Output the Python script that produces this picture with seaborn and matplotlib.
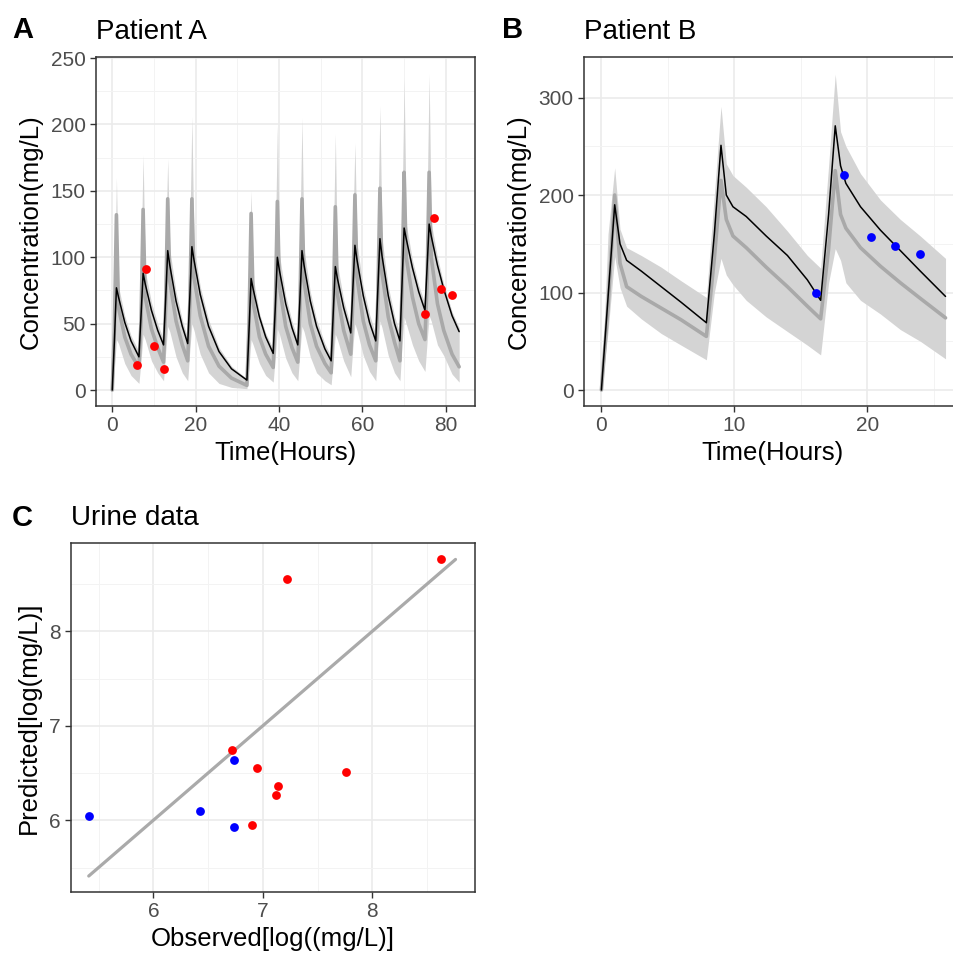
import numpy as np
import seaborn as sns
import matplotlib
matplotlib.use("Agg")
import matplotlib.pyplot as plt
from matplotlib.ticker import MultipleLocator

# ---- Patient A: simulated profile ----
a_time = [0, 0.5, 1.0, 1.5, 3.0, 4.5,
          6.4, 6.9, 7.4, 7.9, 9.4, 10.9,
          12.3, 12.8, 13.3, 13.8, 15.3, 16.8,
          18.1, 18.6, 19.1, 19.6, 21.1, 23.1, 25.6, 28.6,
          32.3, 32.8, 33.3, 33.8, 35.3, 36.8,
          38.6, 39.1, 39.6, 40.1, 41.6, 43.1,
          44.5, 45.0, 45.5, 46.0, 47.5, 49.0, 51.0,
          52.5, 53.0, 53.5, 54.0, 55.5,
          57.2, 57.7, 58.2, 58.7, 60.2, 61.7,
          63.2, 63.7, 64.2, 64.7, 66.2, 67.7,
          69.0, 69.5, 70.0, 70.5, 72.0, 73.5,
          75.0, 75.5, 76.0, 76.5, 78.0, 79.5, 81.5, 83.2]
a_ind = [0, 36, 77, 70, 51, 37,
         25, 56, 88, 80, 60, 45,
         34, 68, 105, 94, 67, 48,
         35, 70, 108, 98, 72, 48, 29, 16,
         7.5, 45, 84, 76, 55, 40,
         27.6, 62, 100, 90, 65, 47,
         34, 68, 105, 94, 67, 48, 31,
         22, 58, 93, 84, 62,
         43, 76, 109, 98, 71, 51,
         37, 76, 114, 101, 71, 50,
         37, 80, 122, 114, 92, 74,
         60, 92, 125, 116, 94, 76, 56, 44]
a_med = [0, 45, 132, 62, 40, 27,
         17, 52, 136, 70, 46, 32,
         21, 62, 144, 82, 52, 34,
         22, 65, 144, 85, 56, 33, 18, 9,
         3.5, 50, 133, 66, 40, 27,
         17, 60, 142, 78, 48, 32,
         21, 62, 144, 82, 50, 33, 20,
         13, 55, 138, 72, 45,
         27, 68, 147, 85, 52, 34,
         22, 70, 152, 88, 55, 36,
         22, 75, 164, 100, 70, 50,
         38, 80, 164, 100, 65, 45, 27, 17.5]
a_lo = [0, 15, 38, 35, 20, 11,
        5, 22, 42, 38, 22, 13,
        7, 28, 48, 44, 25, 13,
        7, 30, 50, 45, 27, 13, 5, 2,
        1, 18, 38, 34, 20, 11,
        6, 25, 46, 42, 24, 13,
        7, 28, 48, 44, 25, 13, 7,
        4, 22, 42, 38, 22,
        10, 32, 50, 45, 26, 14,
        7, 32, 52, 47, 26, 13,
        7, 34, 55, 50, 34, 22,
        14, 36, 56, 52, 34, 26, 12, 6]
a_hi = [0, 70, 160, 78, 56, 41,
        29, 100, 177, 90, 66, 50,
        38, 110, 174, 106, 74, 53,
        39, 120, 206, 108, 78, 53, 32, 18,
        8.5, 85, 150, 85, 58, 43,
        31, 110, 199, 102, 71, 52,
        38, 115, 205, 106, 74, 53, 35,
        25, 105, 193, 95, 68,
        48, 120, 186, 110, 78, 57,
        42, 125, 214, 114, 78, 56,
        42, 135, 235, 125, 98, 79,
        65, 140, 238, 126, 100, 80, 59, 47]
a_obs_t = [5.9, 8.0, 10.1, 12.3, 75.0, 77.05, 78.8, 81.4]
a_obs_c = [18.6, 91.4, 33.1, 16.1, 57.0, 129.8, 75.8, 71.8]

# ---- Patient B ----
b_time = [0, 0.5, 1.0, 1.4, 1.9, 3.0, 4.5, 6.0, 7.9,
          8.5, 9.0, 9.4, 9.9, 10.9, 12.4, 14.0, 15.5, 16.5,
          17.1, 17.6, 18.0, 18.4, 19.5, 21.0, 22.5, 24.0, 25.9]
b_ind = [0, 95, 190, 150, 133, 122, 106, 90, 69,
         160, 251, 200, 188, 178, 158, 138, 113, 92,
         180, 271, 230, 212, 188, 164, 143, 122, 96]
b_med = [0, 85, 200, 130, 106, 96, 84, 72, 55,
         135, 215, 175, 158, 146, 126, 106, 86, 73,
         145, 225, 180, 166, 146, 127, 110, 94, 74]
b_lo = [0, 60, 137, 105, 86, 73, 58, 46, 31,
        100, 135, 118, 108, 92, 75, 60, 46, 36,
        110, 145, 133, 110, 92, 78, 62, 50, 32]
b_hi = [0, 160, 228, 165, 146, 138, 126, 112, 95,
        200, 291, 232, 220, 208, 188, 163, 138, 125,
        230, 324, 265, 250, 222, 195, 175, 158, 135]
b_obs_t = [16.14, 18.27, 20.26, 22.09, 23.99]
b_obs_c = [99.3, 220.4, 157.4, 147.8, 139.3]

# ---- Urine data (log scale) ----
c_obs_red = [8.63, 7.22, 6.72, 6.95, 7.76, 7.14, 7.12, 6.90]
c_pred_red = [8.76, 8.55, 6.74, 6.55, 6.51, 6.36, 6.27, 5.95]
c_obs_blue = [6.74, 5.41, 6.43, 6.74]
c_pred_blue = [6.64, 6.04, 6.10, 5.93]

sns.set_style("white")
plt.rcParams['font.family'] = ['Liberation Sans', 'DejaVu Sans']
plt.rcParams['text.color'] = 'black'
plt.rcParams['axes.labelcolor'] = 'black'
plt.rcParams['xtick.bottom'] = True
plt.rcParams['ytick.left'] = True

LIGHT = "#D4D4D4"
MEDC = "#A9A9A9"


def style_axes(ax, xmaj, xmin, ymaj, ymin):
    ax.xaxis.set_major_locator(MultipleLocator(xmaj))
    ax.xaxis.set_minor_locator(MultipleLocator(xmin))
    ax.yaxis.set_major_locator(MultipleLocator(ymaj))
    ax.yaxis.set_minor_locator(MultipleLocator(ymin))
    ax.grid(True, which='major', color='#EBEBEB', lw=1.2)
    ax.grid(True, which='minor', color='#F3F3F3', lw=0.7)
    ax.set_axisbelow(True)
    for sp in ax.spines.values():
        sp.set_color('#333333')
        sp.set_linewidth(1.1)
    ax.tick_params(which='major', bottom=True, left=True, length=4.3,
                   width=1.0, color='#333333', labelcolor='#4D4D4D',
                   labelsize=15, pad=3)
    ax.tick_params(which='minor', length=0)


def pk_panel(ax, t, ind, med, lo, hi, obs_t, obs_c, col):
    ax.fill_between(t, lo, hi, color=LIGHT, lw=0, zorder=1)
    sns.lineplot(x=t, y=med, ax=ax, color=MEDC, lw=2.6, sort=False,
                 estimator=None, zorder=2)
    sns.lineplot(x=t, y=ind, ax=ax, color='black', lw=1.1, sort=False,
                 estimator=None, zorder=3)
    sns.scatterplot(x=obs_t, y=obs_c, ax=ax, color=col, s=40, lw=0, zorder=4)
    ax.set_xlabel('Time(Hours)', fontsize=18.5)
    ax.set_ylabel('Concentration(mg/L)', fontsize=18.5, labelpad=6)


fig = plt.figure(figsize=(9.54, 9.6), dpi=100)
W, H = 954, 960

axA = fig.add_axes([96 / W, (H - 406) / H, 379 / W, 349 / H])
pk_panel(axA, a_time, a_ind, a_med, a_lo, a_hi, a_obs_t, a_obs_c, '#FF0000')
axA.set_xlim(-3.9, 87.0)
axA.set_ylim(-12, 250.8)
style_axes(axA, 20, 10, 50, 25)
axA.set_title('Patient A', loc='left', fontsize=20, pad=13)

axB = fig.add_axes([584 / W, (H - 406) / H, (962 - 584) / W, 349 / H])
pk_panel(axB, b_time, b_ind, b_med, b_lo, b_hi, b_obs_t, b_obs_c, '#0000FF')
axB.set_xlim(-1.31, 27.14)
axB.set_ylim(-16.4, 341.6)
style_axes(axB, 10, 5, 100, 50)
axB.set_title('Patient B', loc='left', fontsize=20, pad=13)

axC = fig.add_axes([71 / W, (H - 892) / H, 404 / W, 349 / H])
all_vals = c_obs_red + c_pred_red + c_obs_blue + c_pred_blue
ident = [min(all_vals), max(all_vals)]
sns.lineplot(x=ident, y=ident, ax=axC, color='#AAAAAA', lw=2.3, zorder=2)
sns.scatterplot(x=c_obs_red, y=c_pred_red, ax=axC, color='#FF0000', s=40,
                lw=0, zorder=3)
sns.scatterplot(x=c_obs_blue, y=c_pred_blue, ax=axC, color='#0000FF', s=40,
                lw=0, zorder=3)
axC.set_xlim(5.248, 8.938)
axC.set_ylim(5.241, 8.934)
style_axes(axC, 1, 0.5, 1, 0.5)
axC.set_xlabel('Observed[log((mg/L)]', fontsize=18.5)
axC.set_ylabel('Predicted[log(mg/L)]', fontsize=18.5, labelpad=6)
axC.set_title('Urine data', loc='left', fontsize=20, pad=13)

for lab, x, y in [('A', 12, 38), ('B', 502, 38), ('C', 12, 526)]:
    fig.text(x / W, 1 - y / H, lab, fontsize=21, fontweight='bold',
             va='baseline', ha='left', color='black')

fig.savefig('out.png', dpi=100)
